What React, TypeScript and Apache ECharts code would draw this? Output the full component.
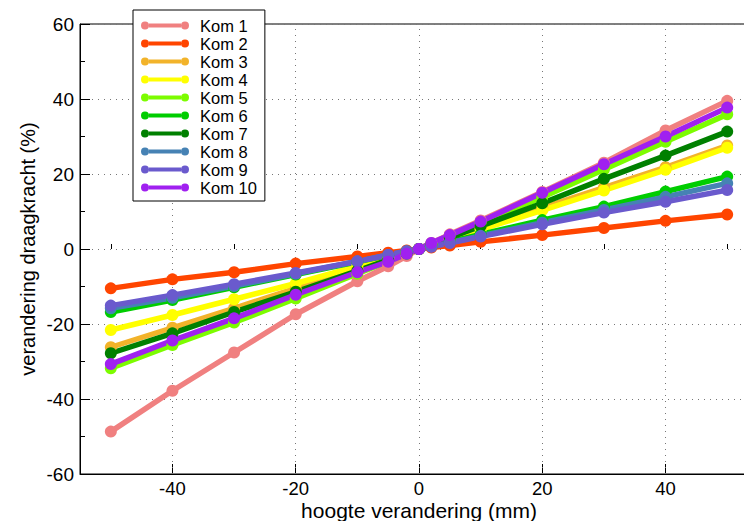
import React, { useEffect, useRef } from "react";
import * as echarts from "echarts";

const xValues = [-50, -40, -30, -20, -10, -5, -2, 0, 2, 5, 10, 20, 30, 40, 50];

const seriesNames = ["Kom 1", "Kom 2", "Kom 3", "Kom 4", "Kom 5", "Kom 6", "Kom 7", "Kom 8", "Kom 9", "Kom 10"];

const kom1 = [-48.7, -37.8, -27.6, -17.4, -8.6, -4.6, -1.9, 0, 1.6, 3.9, 7.6, 15.2, 23.0, 31.6, 39.5];
const kom2 = [-10.5, -8.1, -6.2, -3.9, -2.0, -1.0, -0.4, 0, 0.4, 0.9, 1.9, 3.7, 5.6, 7.5, 9.2];
const kom3 = [-26.2, -21.0, -15.8, -10.5, -5.3, -2.7, -1.1, 0, 1.1, 2.8, 5.5, 11.0, 16.4, 21.8, 27.6];
const kom4 = [-21.6, -17.6, -13.4, -9.2, -4.6, -2.3, -0.9, 0, 1.0, 2.6, 5.2, 10.3, 15.6, 21.1, 27.0];
const kom5 = [-31.8, -25.6, -19.6, -13.2, -6.6, -3.3, -1.3, 0, 1.4, 3.5, 7.0, 13.8, 21.2, 28.6, 35.9];
const kom6 = [-16.8, -13.6, -10.2, -6.8, -3.4, -1.7, -0.7, 0, 0.8, 1.9, 3.9, 7.7, 11.3, 15.3, 19.3];
const kom7 = [-27.8, -22.5, -16.8, -11.4, -5.8, -2.9, -1.2, 0, 1.2, 3.0, 6.1, 12.2, 18.7, 24.9, 31.3];
const kom8 = [-15.8, -13.0, -9.9, -6.6, -3.3, -1.6, -0.6, 0, 0.7, 1.7, 3.5, 7.0, 10.4, 13.9, 17.5];
const kom9 = [-15.1, -12.3, -9.4, -6.4, -3.3, -1.6, -0.6, 0, 0.6, 1.6, 3.3, 6.6, 9.7, 12.6, 15.7];
const kom10 = [-30.7, -24.4, -18.5, -12.2, -6.2, -3.4, -1.3, 0, 1.6, 3.7, 7.3, 15.0, 22.6, 30.0, 37.7];

const seriesValues = [kom1, kom2, kom3, kom4, kom5, kom6, kom7, kom8, kom9, kom10];

const seriesColors = [
  "#F08080",
  "#FF4500",
  "#F2B32A",
  "#FFFF00",
  "#7CFC00",
  "#00CD00",
  "#008000",
  "#4682B4",
  "#6A5ACD",
  "#A020F0",
];

const xMajorTicks = [-40, -20, 0, 20, 40];
const xMinorTicks = [-50, -30, -10, 10, 30, 50];
const xGridLines = [-40, -20, 0, 20, 40];

const FONT = "'Liberation Sans', Arial, Helvetica, sans-serif";
const LEGEND_ICON =
  "path://M0,4 A4,4 0 1,1 8,4 A4,4 0 1,1 0,4 Z M40,4 A4,4 0 1,1 48,4 A4,4 0 1,1 40,4 Z M8,2 L40,2 L40,6 L8,6 Z";

export default function App() {
  const ref = useRef<HTMLDivElement>(null);

  useEffect(() => {
    if (!ref.current) return;
    const chart = echarts.init(ref.current, null, { renderer: "svg" });

    const series: any[] = seriesNames.map((name, i) => {
      const s: any = {
        name,
        type: "line",
        xAxisIndex: 0,
        yAxisIndex: 0,
        data: xValues.map((x, j) => [x, seriesValues[i][j]]),
        symbol: "circle",
        symbolSize: 12,
        showSymbol: true,
        lineStyle: { width: 5.5, color: seriesColors[i] },
        itemStyle: { color: seriesColors[i] },
        color: seriesColors[i],
        z: 2,
      };
      if (i === 0) {
        s.markLine = {
          silent: true,
          symbol: "none",
          z: 1,
          label: { show: false },
          lineStyle: { color: "#777", type: [1, 5], width: 1 },
          emphasis: { disabled: true },
          data: xGridLines.map((v) => ({ xAxis: v })),
        };
      }
      return s;
    });

    chart.setOption({
      animation: false,
      backgroundColor: "#fff",
      grid: {
        left: 80,
        top: 24,
        bottom: 47,
        right: -14,
        show: true,
        borderColor: "#000",
        borderWidth: 1,
        backgroundColor: "transparent",
        containLabel: false,
        outerBoundsMode: "none",
      },
      legend: {
        show: true,
        orient: "vertical",
        left: 133,
        top: 10,
        data: seriesNames,
        icon: LEGEND_ICON,
        itemWidth: 48,
        itemHeight: 8,
        itemGap: 1,
        padding: [7, 8, 5, 8],
        borderColor: "#000",
        borderWidth: 1,
        backgroundColor: "#fff",
        textStyle: {
          fontFamily: FONT,
          fontSize: 16.5,
          lineHeight: 17,
          color: "#000",
          padding: [0, 0, 0, 6],
        },
        selectedMode: false,
      },
      xAxis: [
        {
          type: "value",
          min: -55,
          max: 55,
          position: "bottom",
          name: "hoogte verandering (mm)",
          nameLocation: "middle",
          nameGap: 26,
          nameMoveOverlap: false,
          nameTextStyle: { fontFamily: FONT, fontSize: 21, color: "#000" },
          axisLine: { show: true, onZero: false, lineStyle: { color: "#000", width: 1 } },
          axisTick: {
            show: true,
            inside: true,
            length: 10,
            customValues: xMajorTicks,
            lineStyle: { color: "#000" },
          },
          axisLabel: {
            show: true,
            customValues: xMajorTicks,
            fontFamily: FONT,
            fontSize: 18.5,
            color: "#000",
            margin: 5,
          },
          splitLine: { show: false },
        },
        {
          type: "value",
          min: -55,
          max: 55,
          position: "bottom",
          axisLine: { show: false },
          axisTick: {
            show: true,
            inside: true,
            length: 5,
            customValues: xMinorTicks,
            lineStyle: { color: "#000" },
          },
          axisLabel: { show: false },
          splitLine: { show: false },
        },
      ],
      yAxis: [
        {
          type: "value",
          min: -60,
          max: 60,
          interval: 20,
          position: "left",
          name: "verandering draagkracht (%)",
          nameLocation: "middle",
          nameGap: 42,
          nameMoveOverlap: false,
          nameTextStyle: { fontFamily: FONT, fontSize: 20, color: "#000" },
          axisLine: { show: true, onZero: false, lineStyle: { color: "#000", width: 1 } },
          axisTick: { show: true, inside: true, length: 10, lineStyle: { color: "#000" } },
          minorTick: { show: true, splitNumber: 2, length: 5, lineStyle: { color: "#000" } },
          axisLabel: { fontFamily: FONT, fontSize: 19, color: "#000", margin: 6 },
          splitLine: { show: true, lineStyle: { color: "#777", type: [1, 5], width: 1 } },
        },
      ],
      series,
    });

    return () => chart.dispose();
  }, []);

  return <div ref={ref} style={{ width: 744, height: 521, position: "absolute", left: 0, top: 0 }} />;
}
